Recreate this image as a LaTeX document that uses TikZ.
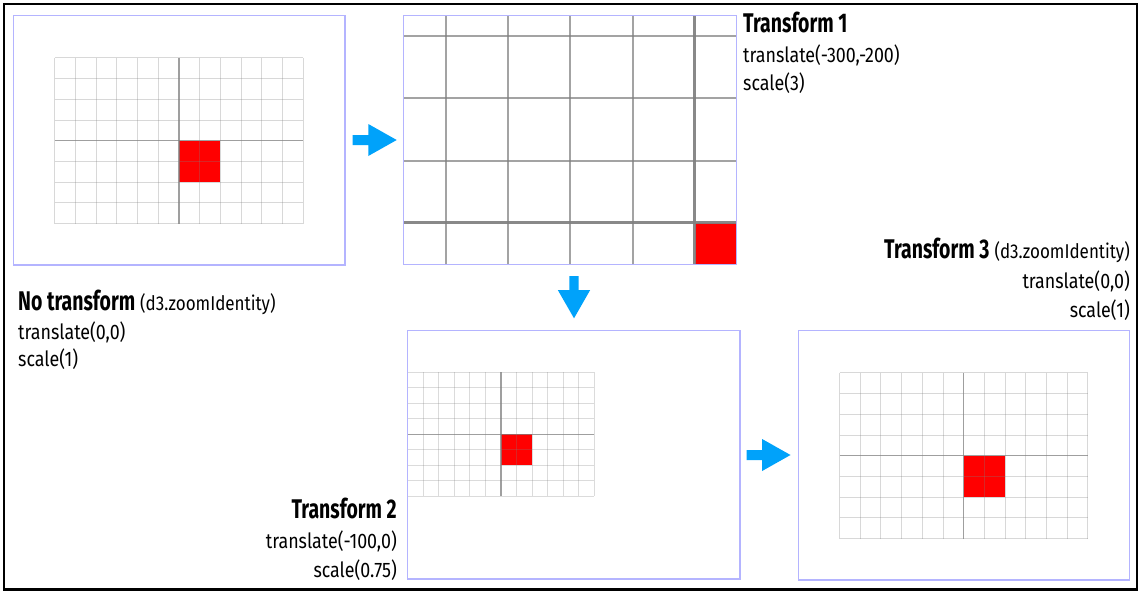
\documentclass[tikz,border=0pt]{standalone}
\usepackage{fontspec}
\setmainfont[FakeStretch=0.85]{Fira Sans}
\newfontfamily\titlefont[FakeStretch=0.72]{Fira Sans}
\definecolor{panelblue}{RGB}{180,180,255}
\definecolor{arrowblue}{RGB}{0,162,250}
\newcommand{\zgrid}[7]{%
  \fill[red] (#1,#2) rectangle ({#1+2*#3},{#2+2*#3});
  \foreach \i in {-6,...,-1,1,2,...,6}
    \draw[gray, line width=#4, opacity=#5] ({#1+\i*#3},{#2-4*#3}) -- ({#1+\i*#3},{#2+4*#3});
  \foreach \j in {-4,...,-1,1,2,3,4}
    \draw[gray, line width=#4, opacity=#5] ({#1-6*#3},{#2+\j*#3}) -- ({#1+6*#3},{#2+\j*#3});
  \draw[gray, line width=#6, opacity=#7] (#1,{#2-4*#3}) -- (#1,{#2+4*#3});
  \draw[gray, line width=#6, opacity=#7] ({#1-6*#3},#2) -- ({#1+6*#3},#2);
}
\newcommand{\rarrow}[3]{% name, x start, y center
  \coordinate (#1) at (#2,#3);
  \fill[arrowblue] ($(#1)+(0,-5)$) -- ++(15.6,0) -- ++(0,-11) -- ++(28.4,16) -- ++(-28.4,16) -- ++(0,-11) -- ++(-15.6,0) -- cycle;
}
\newcommand{\darrow}[3]{% name, x center, y start
  \coordinate (#1) at (#2,#3);
  \fill[arrowblue] ($(#1)+(-4.7,0)$) -- ++(0,14) -- ++(-11.5,0) -- ++(16.2,28.3) -- ++(16.2,-28.3) -- ++(-11.5,0) -- ++(0,-14) -- cycle;
}
\newcommand{\ttl}{\titlefont\bfseries\fontsize{27}{30}\selectfont}
\newcommand{\paren}{\fontsize{20}{24}\selectfont}
\usetikzlibrary{calc}
\tikzset{
  panel/.style={draw=panelblue, line width=1.3pt},
  title/.style={font=\ttl, inner sep=0pt},
  sub/.style={font=\fontsize{21}{25}\selectfont, inner sep=0pt},
}
\begin{document}
\begin{tikzpicture}[x=1pt,y=-1pt]
\useasboundingbox (0,0) rectangle (1139,591);
\fill[white] (0,0) rectangle (1139,591);

% panel 1: no transform
\zgrid{179}{140.7}{20.7}{1}{0.3}{1.3}{0.75}
\draw[panel] (13.3,15.7) coordinate (p1a) rectangle (345,265) coordinate (p1b);

% panel 2: transform 1
\begin{scope}
  \clip (403.7,15.7) rectangle (736.7,264.7);
  \zgrid{694.6}{222.7}{62.1}{2}{0.72}{3.4}{0.92}
\end{scope}
\draw[panel] (403.7,15.7) coordinate (p2a) rectangle (736.7,264.7) coordinate (p2b);

% panel 3: transform 2
\begin{scope}
  \clip (407.3,330.7) rectangle (740,579);
  \zgrid{501}{434.3}{15.53}{0.9}{0.28}{1.2}{0.75}
\end{scope}
\draw[panel] (407.3,330.7) coordinate (p3a) rectangle (740,579) coordinate (p3b);

% panel 4: transform 3
\zgrid{963.7}{455.7}{20.7}{1}{0.3}{1.3}{0.75}
\draw[panel] (798.3,330.3) coordinate (p4a) rectangle (1129.5,580) coordinate (p4b);

% arrows
\rarrow{a1}{352.7}{140}
\darrow{a2}{574}{276}
\rarrow{a3}{746.5}{455}

% labels
\node[title, anchor=base west] (t1) at (743,33) {Transform 1};
\node[sub, anchor=base west] (t1a) at (743,63) {translate(-300,-200)};
\node[sub, anchor=base west] (t1b) at (743,91) {scale(3)};

\node[anchor=base west, inner sep=0pt] (t0) at (18,310) {{\ttl No transform}\hspace{5pt}{\paren(d3.zoomIdentity)}};
\node[sub, anchor=base west] (t0a) at (18,339) {translate(0,0)};
\node[sub, anchor=base west] (t0b) at (18,366) {scale(1)};

\node[anchor=base east, inner sep=0pt] (t3) at (1130,258) {{\ttl Transform 3}\hspace{5pt}{\paren(d3.zoomIdentity)}};
\node[sub, anchor=base east] (t3a) at (1130,288) {translate(0,0)};
\node[sub, anchor=base east] (t3b) at (1130,317) {scale(1)};

\node[title, anchor=base east] (t2) at (397,518) {Transform 2};
\node[sub, anchor=base east] (t2a) at (397,548) {translate(-100,0)};
\node[sub, anchor=base east] (t2b) at (397,577) {scale(0.75)};

% outer frame
\draw[line width=2.6pt, black] (4,4) rectangle (1137,589.5);
\end{tikzpicture}
\end{document}
